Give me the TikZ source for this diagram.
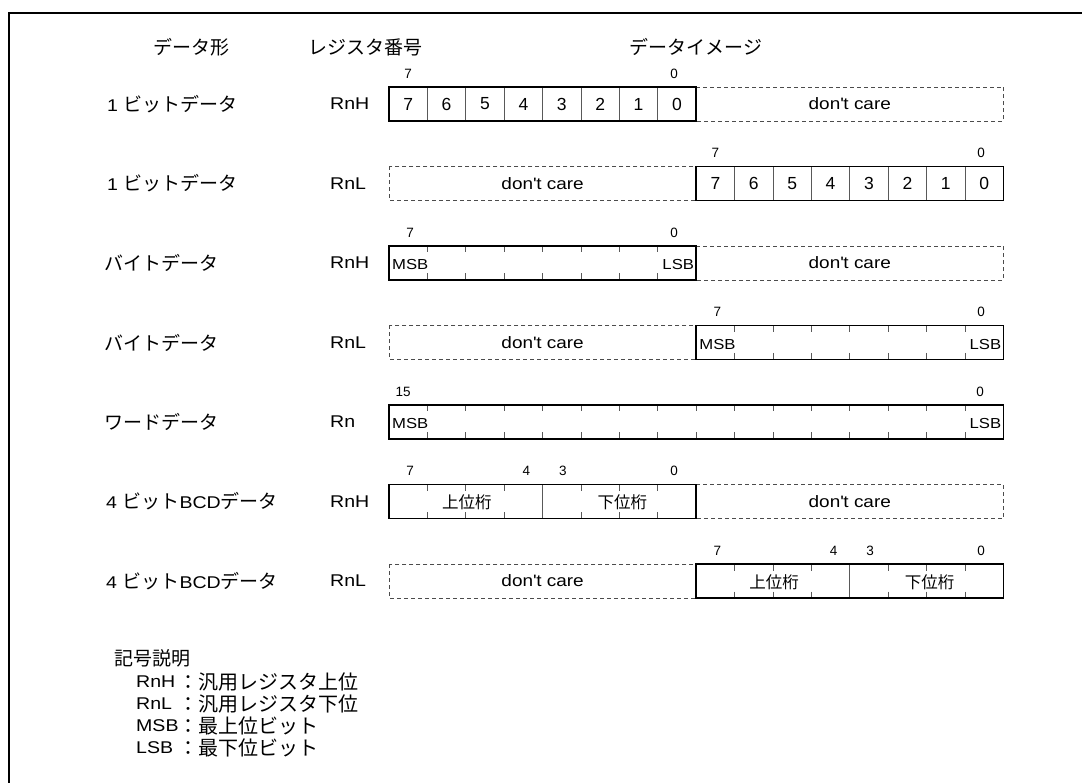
\documentclass[tikz,border=0pt]{standalone}
\usepackage{fontspec}
\setmainfont{Liberation Sans}[FakeStretch=1.15]
\newfontfamily\jpfont{Noto Sans CJK JP}
\newfontfamily\digfont{Liberation Sans}
\newcommand\jp[1]{{\jpfont\fontsize{19}{22}\selectfont #1}}
\begin{document}
\begin{tikzpicture}[x=1pt,y=-1pt,
  lab/.style={font=\fontsize{17}{20}\selectfont, inner sep=0, anchor=west},
  head/.style={font=\jpfont\fontsize{19}{22}\selectfont, inner sep=0},
  legj/.style={font=\jpfont\fontsize{20}{23}\selectfont, inner sep=0, anchor=west},
  bitn/.style={font=\digfont\fontsize{13.5}{15}\selectfont, inner sep=0},
  cellt/.style={font=\digfont\fontsize{17.5}{20}\selectfont, inner sep=0},
  msbt/.style={font=\fontsize{14.5}{16}\selectfont, inner sep=0},
  dct/.style={font=\fontsize{16.5}{19}\selectfont, inner sep=0},
  bcdt/.style={font=\jpfont\fontsize{16.5}{19}\selectfont, inner sep=0},
  regbox/.style={draw=black, line width=1.6pt},
  dcbox/.style={draw=black!70, dash pattern=on 4pt off 3pt, line width=0.8pt},
  divl/.style={draw=black!65, line width=0.8pt},
  frame/.style={draw=black, line width=1.8pt}]
\useasboundingbox (0,0) rectangle (1082,783);
\def\L{389}\def\M{696.2}\def\R{1003.4}\def\w{38.4}\def\h{34}\def\tk{6.5}
% frame
\draw[frame] (9,783) -- (9,13) -- (1082,13);
% headers
\node[head] (h1) at (191,47) {データ形};
\node[head] (h2) at (365,47) {レジスタ番号};
\node[head] (h3) at (696,47) {データイメージ};
% row labels
\node[lab] (r1) at (107,104) {1 \jp{ビットデータ}};
\node[lab] (r2) at (107,183.5) {1 \jp{ビットデータ}};
\node[lab] (r3) at (104,263) {\jp{バイトデータ}};
\node[lab] (r4) at (104,342.5) {\jp{バイトデータ}};
\node[lab] (r5) at (104,422) {\jp{ワードデータ}};
\node[lab] (r6) at (106,501.5) {4 \jp{ビット}BCD\jp{データ}};
\node[lab] (r7) at (106,581) {4 \jp{ビット}BCD\jp{データ}};
% register names
\node[lab] (g1) at (330,104) {RnH};
\node[lab] (g2) at (330,183.5) {RnL};
\node[lab] (g3) at (330,263) {RnH};
\node[lab] (g4) at (330,342.5) {RnL};
\node[lab] (g5) at (330,422) {Rn};
\node[lab] (g6) at (330,501.5) {RnH};
\node[lab] (g7) at (330,581) {RnL};
% ---- row 1 : 1 bit, RnH
\def\T{87}
\draw[dcbox] (\M,\T) rectangle (\R,\T+\h);
\foreach \i in {1,...,7} \draw[divl] ({\L+\i*\w},\T) -- ({\L+\i*\w},\T+\h);
\draw[regbox] (\L,\T) rectangle (\M,\T+\h);
\foreach \d [count=\i from 0] in {7,6,5,4,3,2,1,0}
  \node[cellt] (a\i) at ({\L+(\i+0.5)*\w},\T+17) {\d};
\node[bitn] (a7n) at ({\L+0.5*\w},\T-13.5) {7};
\node[bitn] (a0n) at ({\M-0.5*\w-3},\T-13.5) {0};
\node[dct] (adc) at ({(\M+\R)/2},\T+17) {don\textquotesingle t care};
% ---- row 2 : 1 bit, RnL
\def\T{166.5}
\draw[dcbox] (\L,\T) rectangle (\M,\T+\h);
\foreach \i in {1,...,7} \draw[divl] ({\M+\i*\w},\T) -- ({\M+\i*\w},\T+\h);
\draw[regbox] (\M,\T) rectangle (\R,\T+\h);
\foreach \d [count=\i from 0] in {7,6,5,4,3,2,1,0}
  \node[cellt] (b\i) at ({\M+(\i+0.5)*\w},\T+17) {\d};
\node[bitn] (b7n) at ({\M+0.5*\w},\T-13.5) {7};
\node[bitn] (b0n) at ({\R-0.5*\w-3},\T-13.5) {0};
\node[dct] (bdc) at ({(\L+\M)/2},\T+17) {don\textquotesingle t care};
% ---- row 3 : byte, RnH
\def\T{246}
\draw[dcbox] (\M,\T) rectangle (\R,\T+\h);
\foreach \i in {1,...,7} {
  \draw[divl] ({\L+\i*\w},\T) -- ({\L+\i*\w},\T+\tk);
  \draw[divl] ({\L+\i*\w},\T+\h-\tk) -- ({\L+\i*\w},\T+\h);}
\draw[regbox] (\L,\T) rectangle (\M,\T+\h);
\node[msbt,anchor=west] (cm) at (\L+3,\T+19) {MSB};
\node[msbt,anchor=east] (cl) at (\M-2,\T+19) {LSB};
\node[bitn] (c7n) at ({\L+0.5*\w+2},\T-13.5) {7};
\node[bitn] (c0n) at ({\M-0.5*\w-3},\T-13.5) {0};
\node[dct] (cdc) at ({(\M+\R)/2},\T+17) {don\textquotesingle t care};
% ---- row 4 : byte, RnL
\def\T{325.5}
\draw[dcbox] (\L,\T) rectangle (\M,\T+\h);
\foreach \i in {1,...,7} {
  \draw[divl] ({\M+\i*\w},\T) -- ({\M+\i*\w},\T+\tk);
  \draw[divl] ({\M+\i*\w},\T+\h-\tk) -- ({\M+\i*\w},\T+\h);}
\draw[regbox] (\M,\T) rectangle (\R,\T+\h);
\node[msbt,anchor=west] (dm) at (\M+3,\T+19) {MSB};
\node[msbt,anchor=east] (dl) at (\R-2,\T+19) {LSB};
\node[bitn] (d7n) at ({\M+0.5*\w+2},\T-13.5) {7};
\node[bitn] (d0n) at ({\R-0.5*\w-3},\T-13.5) {0};
\node[dct] (ddc) at ({(\L+\M)/2},\T+17) {don\textquotesingle t care};
% ---- row 5 : word, Rn
\def\T{405}
\foreach \i in {1,...,15} {
  \draw[divl] ({\L+\i*\w},\T) -- ({\L+\i*\w},\T+\tk);
  \draw[divl] ({\L+\i*\w},\T+\h-\tk) -- ({\L+\i*\w},\T+\h);}
\draw[regbox] (\L,\T) rectangle (\R,\T+\h);
\node[msbt,anchor=west] (em) at (\L+3,\T+19) {MSB};
\node[msbt,anchor=east] (el) at (\R-2,\T+19) {LSB};
\node[bitn] (e15n) at ({\L+0.5*\w-5},\T-13.5) {15};
\node[bitn] (e0n) at ({\R-0.5*\w-4},\T-13.5) {0};
% ---- row 6 : BCD, RnH
\def\T{484.5}
\draw[dcbox] (\M,\T) rectangle (\R,\T+\h);
\foreach \i in {1,2,3,5,6,7} {
  \draw[divl] ({\L+\i*\w},\T) -- ({\L+\i*\w},\T+\tk);
  \draw[divl] ({\L+\i*\w},\T+\h-\tk) -- ({\L+\i*\w},\T+\h);}
\draw[divl] ({\L+4*\w},\T) -- ({\L+4*\w},\T+\h);
\draw[regbox] (\L,\T) rectangle (\M,\T+\h);
\node[bcdt] (fu) at ({\L+2*\w+1},\T+18) {上位桁};
\node[bcdt] (fd) at ({\L+6*\w+3},\T+18) {下位桁};
\node[bitn] (f7n) at ({\L+0.5*\w+2},\T-13.5) {7};
\node[bitn] (f4n) at ({\L+3.5*\w+3},\T-13.5) {4};
\node[bitn] (f3n) at ({\L+4.5*\w+1},\T-13.5) {3};
\node[bitn] (f0n) at ({\M-0.5*\w-3},\T-13.5) {0};
\node[dct] (fdc) at ({(\M+\R)/2},\T+17) {don\textquotesingle t care};
% ---- row 7 : BCD, RnL
\def\T{564}
\draw[dcbox] (\L,\T) rectangle (\M,\T+\h);
\foreach \i in {1,2,3,5,6,7} {
  \draw[divl] ({\M+\i*\w},\T) -- ({\M+\i*\w},\T+\tk);
  \draw[divl] ({\M+\i*\w},\T+\h-\tk) -- ({\M+\i*\w},\T+\h);}
\draw[divl] ({\M+4*\w},\T) -- ({\M+4*\w},\T+\h);
\draw[regbox] (\M,\T) rectangle (\R,\T+\h);
\node[bcdt] (gu) at ({\M+2*\w+1},\T+18) {上位桁};
\node[bcdt] (gd) at ({\M+6*\w+3},\T+18) {下位桁};
\node[bitn] (g7n) at ({\M+0.5*\w+2},\T-13.5) {7};
\node[bitn] (g4n) at ({\M+3.5*\w+3},\T-13.5) {4};
\node[bitn] (g3n) at ({\M+4.5*\w+1},\T-13.5) {3};
\node[bitn] (g0n) at ({\R-0.5*\w-3},\T-13.5) {0};
\node[dct] (gdc) at ({(\L+\M)/2},\T+17) {don\textquotesingle t care};
% ---- legend
\node[lab,font=\jpfont\fontsize{19}{22}\selectfont] (lg) at (114,658) {記号説明};
\node[lab] (l1a) at (136,682) {RnH};
\node[lab] (l2a) at (136,704) {RnL};
\node[lab] (l3a) at (136,726) {MSB};
\node[lab] (l4a) at (136,748) {LSB};
\node[legj] (l1b) at (178,682) {：汎用レジスタ上位};
\node[legj] (l2b) at (178,704) {：汎用レジスタ下位};
\node[legj] (l3b) at (178,726) {：最上位ビット};
\node[legj] (l4b) at (178,748) {：最下位ビット};
\end{tikzpicture}
\end{document}
